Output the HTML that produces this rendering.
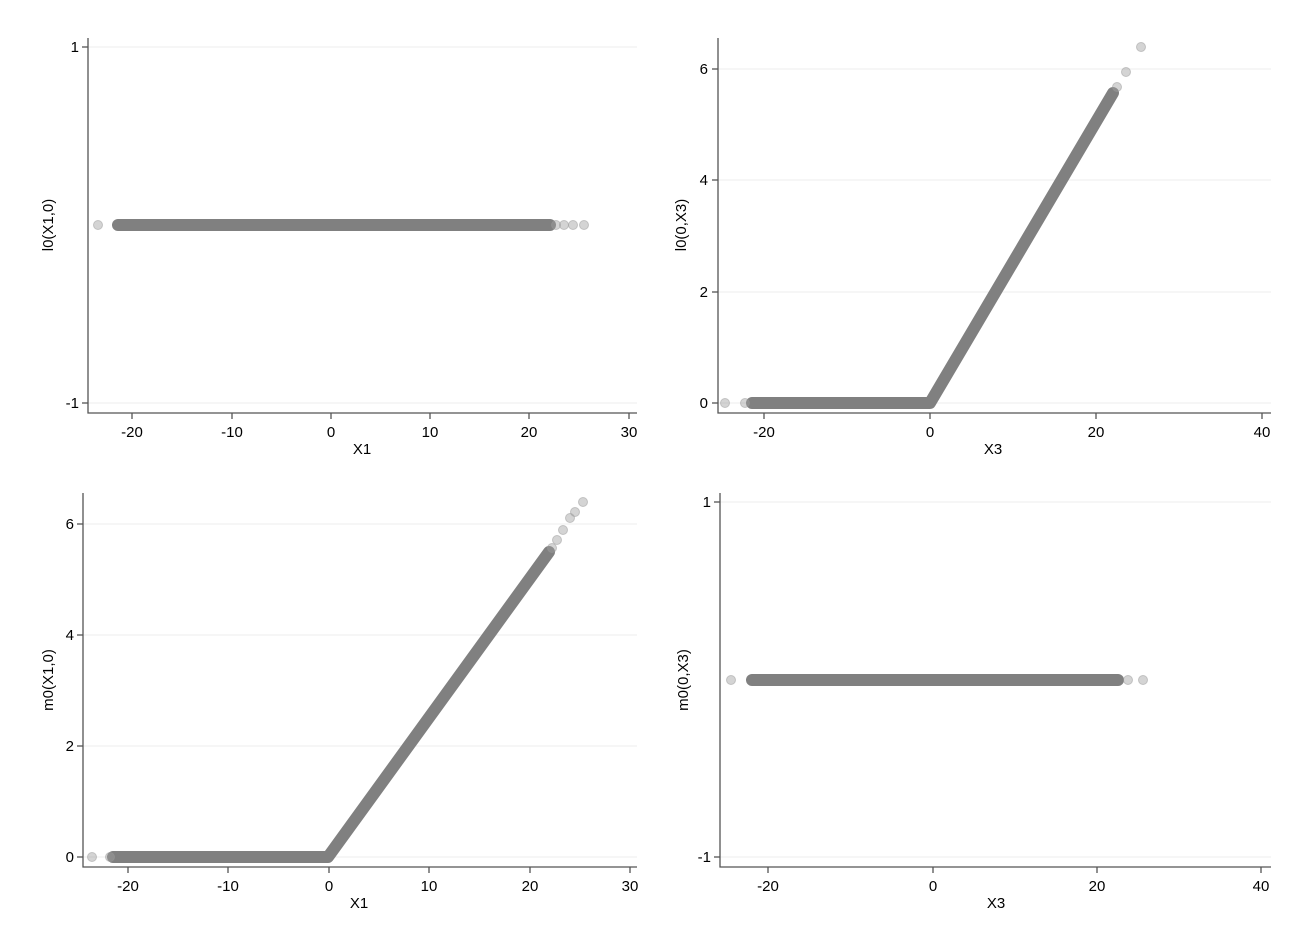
<!DOCTYPE html>
<html><head><style>
body{margin:0;background:#fff}
svg{display:block}
text{font-family:"Liberation Sans",Arial,sans-serif;font-size:15px;fill:#000}
.g{stroke:#ececec;stroke-width:1}
.ax{stroke:#555;stroke-width:1.3;fill:none}
.band{stroke:#808080;fill:none;stroke-width:12;stroke-linecap:round;stroke-linejoin:round}
.o{fill:#a0a0a0;fill-opacity:.45;stroke:#999;stroke-opacity:.5}
</style></head><body>
<svg width="1309" height="952" viewBox="0 0 1309 952">
<!-- Top-left -->
<line class="g" x1="88" y1="47" x2="637" y2="47"/><line class="g" x1="88" y1="403" x2="637" y2="403"/>
<polyline class="ax" points="88,38 88,413 637,413"/>
<line class="ax" x1="82" y1="47" x2="88" y2="47"/><line class="ax" x1="82" y1="403" x2="88" y2="403"/>
<text x="79" y="52" text-anchor="end">1</text><text x="79" y="408" text-anchor="end">-1</text>
<g class="ax"><line x1="132" y1="413" x2="132" y2="419"/><line x1="232" y1="413" x2="232" y2="419"/><line x1="331" y1="413" x2="331" y2="419"/><line x1="430" y1="413" x2="430" y2="419"/><line x1="529" y1="413" x2="529" y2="419"/><line x1="629" y1="413" x2="629" y2="419"/></g>
<g text-anchor="middle"><text x="132" y="437">-20</text><text x="232" y="437">-10</text><text x="331" y="437">0</text><text x="430" y="437">10</text><text x="529" y="437">20</text><text x="629" y="437">30</text><text x="362" y="454">X1</text></g>
<text transform="translate(53,225) rotate(-90)" text-anchor="middle">l0(X1,0)</text>
<line class="band" x1="118" y1="225" x2="550" y2="225"/>
<circle class="o" cx="98" cy="225" r="4.5"/><circle class="o" cx="556" cy="225" r="4.5"/><circle class="o" cx="564" cy="225" r="4.5"/><circle class="o" cx="573" cy="225" r="4.5"/><circle class="o" cx="584" cy="225" r="4.5"/>

<!-- Top-right -->
<line class="g" x1="718" y1="69" x2="1271" y2="69"/><line class="g" x1="718" y1="180" x2="1271" y2="180"/><line class="g" x1="718" y1="292" x2="1271" y2="292"/><line class="g" x1="718" y1="403" x2="1271" y2="403"/>
<polyline class="ax" points="718,38 718,413 1271,413"/>
<g class="ax"><line x1="712" y1="69" x2="718" y2="69"/><line x1="712" y1="180" x2="718" y2="180"/><line x1="712" y1="292" x2="718" y2="292"/><line x1="712" y1="403" x2="718" y2="403"/>
<line x1="764" y1="413" x2="764" y2="419"/><line x1="930" y1="413" x2="930" y2="419"/><line x1="1096" y1="413" x2="1096" y2="419"/><line x1="1262" y1="413" x2="1262" y2="419"/></g>
<g text-anchor="end"><text x="708" y="74">6</text><text x="708" y="185">4</text><text x="708" y="297">2</text><text x="708" y="408">0</text></g>
<g text-anchor="middle"><text x="764" y="437">-20</text><text x="930" y="437">0</text><text x="1096" y="437">20</text><text x="1262" y="437">40</text><text x="993" y="454">X3</text></g>
<text transform="translate(686,225) rotate(-90)" text-anchor="middle">l0(0,X3)</text>
<polyline class="band" points="752,403 930,403 1113,93"/>
<circle class="o" cx="725" cy="403" r="4.5"/><circle class="o" cx="745" cy="403" r="4.5"/><circle class="o" cx="1117" cy="87" r="4.5"/><circle class="o" cx="1126" cy="72" r="4.5"/><circle class="o" cx="1141" cy="47" r="4.5"/>

<!-- Bottom-left -->
<line class="g" x1="83" y1="524" x2="637" y2="524"/><line class="g" x1="83" y1="635" x2="637" y2="635"/><line class="g" x1="83" y1="746" x2="637" y2="746"/><line class="g" x1="83" y1="857" x2="637" y2="857"/>
<polyline class="ax" points="83,493 83,867 637,867"/>
<g class="ax"><line x1="77" y1="524" x2="83" y2="524"/><line x1="77" y1="635" x2="83" y2="635"/><line x1="77" y1="746" x2="83" y2="746"/><line x1="77" y1="857" x2="83" y2="857"/>
<line x1="128" y1="867" x2="128" y2="873"/><line x1="228" y1="867" x2="228" y2="873"/><line x1="329" y1="867" x2="329" y2="873"/><line x1="429" y1="867" x2="429" y2="873"/><line x1="530" y1="867" x2="530" y2="873"/><line x1="630" y1="867" x2="630" y2="873"/></g>
<g text-anchor="end"><text x="74" y="529">6</text><text x="74" y="640">4</text><text x="74" y="751">2</text><text x="74" y="862">0</text></g>
<g text-anchor="middle"><text x="128" y="891">-20</text><text x="228" y="891">-10</text><text x="329" y="891">0</text><text x="429" y="891">10</text><text x="530" y="891">20</text><text x="630" y="891">30</text><text x="359" y="908">X1</text></g>
<text transform="translate(53,680) rotate(-90)" text-anchor="middle">m0(X1,0)</text>
<polyline class="band" points="113,857 328,857 549,552"/>
<circle class="o" cx="92" cy="857" r="4.5"/><circle class="o" cx="110" cy="857" r="4.5"/><circle class="o" cx="552" cy="548" r="4.5"/><circle class="o" cx="557" cy="540" r="4.5"/><circle class="o" cx="563" cy="530" r="4.5"/><circle class="o" cx="570" cy="518" r="4.5"/><circle class="o" cx="575" cy="512" r="4.5"/><circle class="o" cx="583" cy="502" r="4.5"/>

<!-- Bottom-right -->
<line class="g" x1="720" y1="502" x2="1271" y2="502"/><line class="g" x1="720" y1="857" x2="1271" y2="857"/>
<polyline class="ax" points="720,493 720,867 1271,867"/>
<g class="ax"><line x1="714" y1="502" x2="720" y2="502"/><line x1="714" y1="857" x2="720" y2="857"/>
<line x1="768" y1="867" x2="768" y2="873"/><line x1="933" y1="867" x2="933" y2="873"/><line x1="1097" y1="867" x2="1097" y2="873"/><line x1="1261" y1="867" x2="1261" y2="873"/></g>
<g text-anchor="end"><text x="711" y="507">1</text><text x="711" y="862">-1</text></g>
<g text-anchor="middle"><text x="768" y="891">-20</text><text x="933" y="891">0</text><text x="1097" y="891">20</text><text x="1261" y="891">40</text><text x="996" y="908">X3</text></g>
<text transform="translate(688,680) rotate(-90)" text-anchor="middle">m0(0,X3)</text>
<line class="band" x1="752" y1="680" x2="1118" y2="680"/>
<circle class="o" cx="731" cy="680" r="4.5"/><circle class="o" cx="1128" cy="680" r="4.5"/><circle class="o" cx="1143" cy="680" r="4.5"/>
</svg>
</body></html>
